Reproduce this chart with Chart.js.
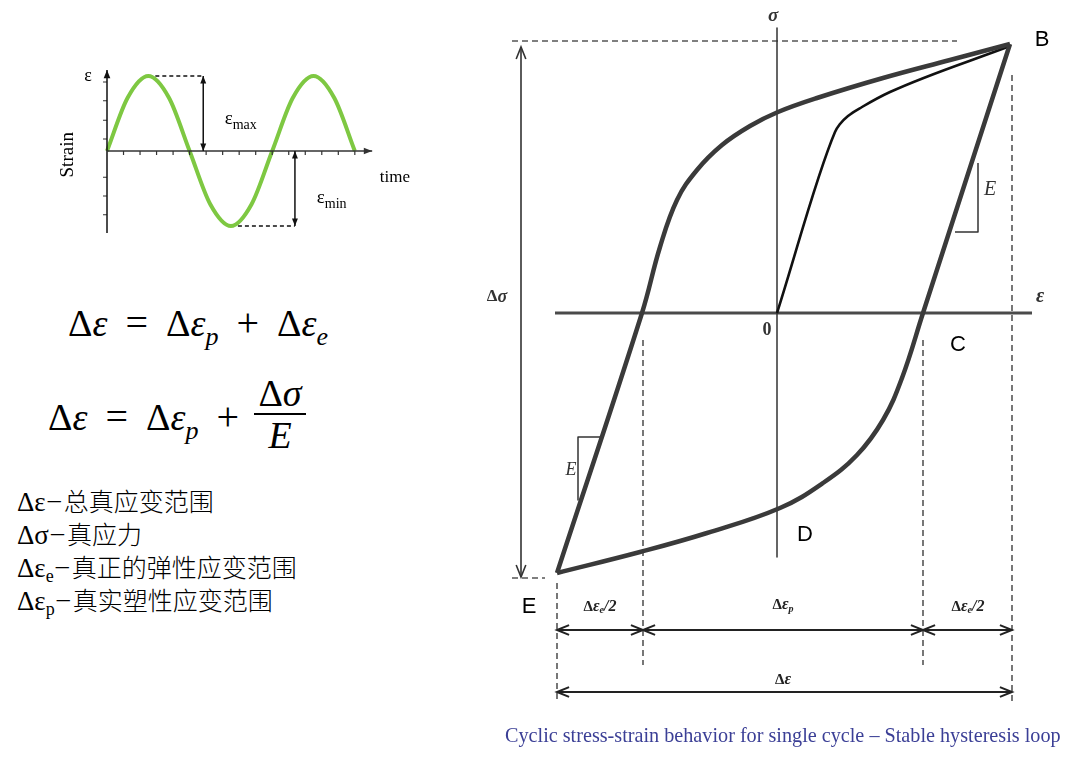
<!DOCTYPE html>
<html>
<head>
<meta charset="utf-8">
<script src="https://cdn.jsdelivr.net/npm/chart.js@4/dist/chart.umd.min.js"></script>
<style>
html,body{margin:0;padding:0;background:#fff;}
body{width:1080px;height:759px;position:relative;overflow:hidden;font-family:"Liberation Serif",serif;color:#000;}
canvas{position:absolute;}
#wave{left:50px;top:55px;}
#loop{left:480px;top:0;}
.eq{position:absolute;font-family:"Liberation Serif",serif;font-size:38px;line-height:38px;white-space:nowrap;}
.eq i{font-style:italic;}
.eq .op{display:inline-block;font-size:40px;margin:0 18px;}
.eq sub{font-size:26px;line-height:0;vertical-align:-9px;}
.frac{position:absolute;left:254px;top:374px;width:52px;text-align:center;font-family:"Liberation Serif",serif;font-size:38px;line-height:38px;}
.frac .num{border-bottom:2px solid #000;padding-bottom:1px;}
.frac .den{padding-top:1px;font-style:italic;}
.legend{position:absolute;left:17px;top:484px;white-space:nowrap;}
.legend div{height:33px;line-height:33px;font-size:25px;}
.legend .sym{font-family:"Liberation Serif",serif;font-size:27px;}
.legend .dash{font-family:"Liberation Serif",serif;font-size:26px;position:relative;top:-3px;margin:0 3px 0 2px;}
.legend .zh{font-family:"Noto Sans CJK SC",sans-serif;font-weight:300;}
.legend sub{font-size:18px;line-height:0;vertical-align:-5px;}
.caption{position:absolute;left:505px;top:724px;font-family:"Liberation Serif",serif;font-size:20.2px;color:#3b3f96;white-space:nowrap;}
</style>
</head>
<body>
<canvas id="wave" width="380" height="195"></canvas>
<canvas id="loop" width="600" height="759"></canvas>

<div class="eq" style="left:68px;top:304px;">Δ<i>ε</i><span class="op">=</span>Δ<i>ε</i><sub><i>p</i></sub><span class="op">+</span>Δ<i>ε</i><sub><i>e</i></sub></div>
<div class="eq" style="left:48px;top:398px;">Δ<i>ε</i><span class="op">=</span>Δ<i>ε</i><sub><i>p</i></sub><span class="op">+</span></div>
<div class="frac"><div class="num">Δ<i>σ</i></div><div class="den">E</div></div>

<div class="legend">
  <div><span class="sym">Δε</span><span class="dash">–</span><span class="zh">总真应变范围</span></div>
  <div><span class="sym">Δσ</span><span class="dash">–</span><span class="zh">真应力</span></div>
  <div><span class="sym">Δε<sub>e</sub></span><span class="dash">–</span><span class="zh">真正的弹性应变范围</span></div>
  <div><span class="sym">Δε<sub>p</sub></span><span class="dash">–</span><span class="zh">真实塑性应变范围</span></div>
</div>
<div class="caption">Cyclic stress-strain behavior for single cycle – Stable hysteresis loop</div>

<script>
// ---- strain vs time wave (top left) ----
const waveTime   = [0, 0.5, 1, 1.5, 2, 2.5, 3, 3.5, 4, 4.5, 5, 5.5, 6];
const waveStrain = [0, 0.71, 1, 0.71, 0, -0.71, -1, -0.71, 0, 0.71, 1, 0.71, 0];
const waveTimeTicks   = [0.4, 0.8, 1.2, 1.6, 2.0, 2.4, 2.8, 3.2, 3.6, 4.0, 4.4, 4.8, 5.2, 5.6, 6.0];
const waveStrainTicks = [0.92, 0.67, 0.41, 0.16, -0.35, -0.6, -0.85];
const epsMaxAt = 2.33;   // time where the eps_max dimension sits
const epsMinAt = 4.55;

// ---- stable hysteresis loop (right), plot units ----
// upper branch: E, elastic up to the zero crossing, then curving over to B
const upperStrain = [-2.20, -1.35, -1.17, -1.00, -0.80, -0.55, -0.27, 0.01, 0.40, 1.06, 1.73, 2.33];
const upperStress = [-2.60, 0, 0.66, 1.13, 1.43, 1.68, 1.87, 2.01, 2.15, 2.35, 2.53, 2.69];
// lower branch: E through D to C, then elastic C -> B
const lowerStrain = [-2.20, -1.37, -0.70, 0.03, 0.46, 0.80, 1.06, 1.25, 1.46, 2.33];
const lowerStress = [-2.60, -2.39, -2.20, -1.95, -1.70, -1.42, -1.07, -0.65, 0, 2.69];
const firstStrain = [0, 0.58, 0.63, 0.71, 0.85, 1.13, 2.33];
const firstStress = [0, 1.81, 1.89, 1.97, 2.06, 2.21, 2.67];
// strain marks: E, left zero crossing, C, B
const strainMarks = [-2.20, -1.34, 1.46, 2.35];
const stressTop = 2.72, stressBottom = -2.65;

function pts(xs, ys){ return xs.map((x, i) => ({x, y: ys[i]})); }
function seg(a, b){ return [{x:a[0], y:a[1]}, {x:b[0], y:b[1]}]; }

function drawRich(ctx, parts, x, y, align){
  let w = 0;
  parts.forEach(p => { ctx.font = p[1]; w += ctx.measureText(p[0]).width; });
  let cx = align === 'left' ? x : x - w / 2;
  parts.forEach(p => {
    ctx.font = p[1];
    ctx.fillText(p[0], cx, y + (p[2] || 0));
    cx += ctx.measureText(p[0]).width;
  });
}

function head(ctx, x, y, ang, style, size){
  const a1 = ang + Math.PI - 0.38, a2 = ang + Math.PI + 0.38;
  ctx.beginPath();
  ctx.moveTo(x + size * Math.cos(a1), y + size * Math.sin(a1));
  ctx.lineTo(x, y);
  ctx.lineTo(x + size * Math.cos(a2), y + size * Math.sin(a2));
  if(style === 'filled'){ ctx.closePath(); ctx.fill(); }
  else ctx.stroke();
}

function makeDeco(spec){
  return {
    id: 'deco',
    afterDatasetsDraw(chart){
      const {ctx, scales} = chart;
      const px = v => scales.x.getPixelForValue(v);
      const py = v => scales.y.getPixelForValue(v);
      ctx.save();
      ctx.lineCap = 'butt';
      if(spec.ticks){
        const t = spec.ticks;
        ctx.strokeStyle = t.color; ctx.lineWidth = 1.2;
        ctx.beginPath();
        t.x.forEach(v => { ctx.moveTo(px(v), py(0)); ctx.lineTo(px(v), py(0) + t.len); });
        t.y.forEach(v => { ctx.moveTo(px(0) - t.len, py(v)); ctx.lineTo(px(0), py(v)); });
        ctx.stroke();
      }
      (spec.arrows || []).forEach(a => {
        const x1 = px(a.from[0]), y1 = py(a.from[1]), x2 = px(a.to[0]), y2 = py(a.to[1]);
        ctx.strokeStyle = a.color; ctx.fillStyle = a.color; ctx.lineWidth = a.width;
        ctx.beginPath(); ctx.moveTo(x1, y1); ctx.lineTo(x2, y2); ctx.stroke();
        const ang = Math.atan2(y2 - y1, x2 - x1);
        if(a.heads !== 'start') head(ctx, x2, y2, ang, a.style, a.size);
        if(a.heads === 'both' || a.heads === 'start') head(ctx, x1, y1, ang + Math.PI, a.style, a.size);
      });
      ctx.textBaseline = 'middle';
      (spec.texts || []).forEach(t => {
        ctx.fillStyle = t.color || '#000';
        const x = px(t.at[0]), y = py(t.at[1]);
        if(t.rotate){
          ctx.save(); ctx.translate(x, y); ctx.rotate(t.rotate);
          drawRich(ctx, t.parts, 0, 0, 'center');
          ctx.restore();
        } else drawRich(ctx, t.parts, x, y, t.align);
      });
      ctx.restore();
    }
  };
}

function baseOptions(xmin, xmax, ymin, ymax){
  return {
    responsive: false,
    animation: false,
    events: [],
    layout: { padding: 0 },
    elements: { point: { radius: 0 }, line: { tension: 0, borderCapStyle: 'butt', borderJoinStyle: 'round' } },
    plugins: { legend: { display: false }, tooltip: { enabled: false } },
    scales: {
      x: { type: 'linear', display: false, min: xmin, max: xmax },
      y: { type: 'linear', display: false, min: ymin, max: ymax }
    }
  };
}

// ---------- wave chart ----------
const serif = '"Liberation Serif", serif';
new Chart(document.getElementById('wave'), {
  type: 'line',
  data: { datasets: [
    { data: pts(waveTime, waveStrain), borderColor: '#7ec842', borderWidth: 4, cubicInterpolationMode: 'monotone' },
    { data: seg([1, 1], [epsMaxAt, 1]), borderColor: '#111', borderWidth: 1.4, borderDash: [4, 3] },
    { data: seg([3, -1], [epsMinAt, -1]), borderColor: '#111', borderWidth: 1.4, borderDash: [4, 3] }
  ]},
  options: baseOptions(-1.38, 7.82, -1.32, 1.28),
  plugins: [makeDeco({
    ticks: { x: waveTimeTicks, y: waveStrainTicks, len: 4, color: '#333' },
    arrows: [
      { from: [0, -1.093], to: [0, 1.08], heads: 'end', style: 'filled', size: 9, width: 1.5, color: '#111' },
      { from: [0, 0], to: [6.42, 0], heads: 'end', style: 'filled', size: 9, width: 1.5, color: '#333' },
      { from: [epsMaxAt, 1], to: [epsMaxAt, 0], heads: 'both', style: 'filled', size: 8, width: 1.5, color: '#111' },
      { from: [epsMinAt, 0], to: [epsMinAt, -1], heads: 'both', style: 'filled', size: 8, width: 1.5, color: '#111' }
    ],
    texts: [
      { at: [-0.46, 0.99], parts: [['ε', '18px ' + serif]] },
      { at: [-0.94, -0.05], rotate: -Math.PI / 2, parts: [['Strain', '19px ' + serif]] },
      { at: [6.97, -0.35], parts: [['time', '17px ' + serif]] },
      { at: [2.85, 0.42], align: 'left', parts: [['ε', '19px ' + serif], ['max', '14px ' + serif, 6]] },
      { at: [5.08, -0.63], align: 'left', parts: [['ε', '19px ' + serif], ['min', '14px ' + serif, 6]] }
    ]
  })]
});

// ---------- hysteresis loop chart ----------
const loopColor = '#3a3a3a';
const dashed = (a, b) => ({ data: seg(a, b), borderColor: '#555', borderWidth: 1.6, borderDash: [6, 4] });
const it = '"Liberation Serif", serif';
new Chart(document.getElementById('loop'), {
  type: 'line',
  data: { datasets: [
    { data: pts(upperStrain, upperStress), borderColor: loopColor, borderWidth: 4.5, tension: 0.4 },
    { data: pts(lowerStrain, lowerStress), borderColor: loopColor, borderWidth: 4.5, tension: 0.4 },
    { data: pts(firstStrain, firstStress), borderColor: '#111', borderWidth: 2.6, cubicInterpolationMode: 'monotone' },
    { data: seg([0, 2.85], [0, -2.44]), borderColor: '#333', borderWidth: 1.5 },
    { data: seg([-2.22, 0], [2.55, 0]), borderColor: '#4a4a4a', borderWidth: 3.2 },
    { data: [{x:1.78, y:0.81}, {x:2.01, y:0.81}, {x:2.01, y:1.50}], borderColor: '#333', borderWidth: 1.5 },
    { data: [{x:-1.77, y:-1.24}, {x:-1.99, y:-1.24}, {x:-1.99, y:-1.87}], borderColor: '#333', borderWidth: 1.5 },
    dashed([-2.65, stressTop], [1.80, stressTop]),
    dashed([-2.65, stressBottom], [-2.32, stressBottom]),
    dashed([strainMarks[0], -2.70], [strainMarks[0], -3.90]),
    dashed([strainMarks[1], -0.27], [strainMarks[1], -3.52]),
    dashed([strainMarks[2], -0.27], [strainMarks[2], -3.52]),
    dashed([strainMarks[3], 2.38], [strainMarks[3], -3.90])
  ]},
  options: baseOptions(-2.97, 3.03, -4.46, 3.13),
  plugins: [makeDeco({
    arrows: [
      { from: [-2.56, 2.66], to: [-2.56, -2.64], heads: 'both', style: 'open', size: 13, width: 1.6, color: '#333' },
      { from: [strainMarks[0], -3.17], to: [strainMarks[1], -3.17], heads: 'both', style: 'open', size: 13, width: 2, color: '#222' },
      { from: [strainMarks[1], -3.17], to: [strainMarks[2], -3.17], heads: 'both', style: 'open', size: 13, width: 2, color: '#222' },
      { from: [strainMarks[2], -3.17], to: [strainMarks[3], -3.17], heads: 'both', style: 'open', size: 13, width: 2, color: '#222' },
      { from: [strainMarks[0], -3.79], to: [strainMarks[3], -3.79], heads: 'both', style: 'open', size: 13, width: 2, color: '#222' }
    ],
    texts: [
      { at: [-0.04, 2.97], parts: [['σ', 'italic bold 19px ' + it]], color: '#333' },
      { at: [2.63, 0.16], parts: [['ε', 'italic bold 20px ' + it]], color: '#333' },
      { at: [-0.10, -0.17], parts: [['0', 'bold 18px ' + it]], color: '#333' },
      { at: [2.13, 1.23], parts: [['E', 'italic 20px ' + it]], color: '#333' },
      { at: [-2.06, -1.57], parts: [['E', 'italic 18px ' + it]], color: '#333' },
      { at: [-2.80, 0.16], parts: [['Δ', 'bold 17px ' + it], ['σ', 'italic bold 18px ' + it]], color: '#333' },
      { at: [-1.77, -2.94], parts: [['Δ', 'bold 15px ' + it], ['ε', 'italic bold 16px ' + it], ['e', 'italic bold 10px ' + it, 3], ['/2', 'italic bold 16px ' + it]], color: '#222' },
      { at: [0.06, -2.92], parts: [['Δ', 'bold 15px ' + it], ['ε', 'italic bold 16px ' + it], ['p', 'italic bold 10px ' + it, 4]], color: '#222' },
      { at: [1.91, -2.94], parts: [['Δ', 'bold 15px ' + it], ['ε', 'italic bold 16px ' + it], ['e', 'italic bold 10px ' + it, 3], ['/2', 'italic bold 16px ' + it]], color: '#222' },
      { at: [0.06, -3.67], parts: [['Δ', 'bold 15px ' + it], ['ε', 'italic bold 16px ' + it]], color: '#222' },
      { at: [2.65, 2.73], parts: [['B', '22px "Liberation Sans", Arial, sans-serif']] },
      { at: [1.81, -0.32], parts: [['C', '22px "Liberation Sans", Arial, sans-serif']] },
      { at: [0.28, -2.22], parts: [['D', '22px "Liberation Sans", Arial, sans-serif']] },
      { at: [-2.48, -2.94], parts: [['E', '22px "Liberation Sans", Arial, sans-serif']] }
    ]
  })]
});
</script>
</body>
</html>
